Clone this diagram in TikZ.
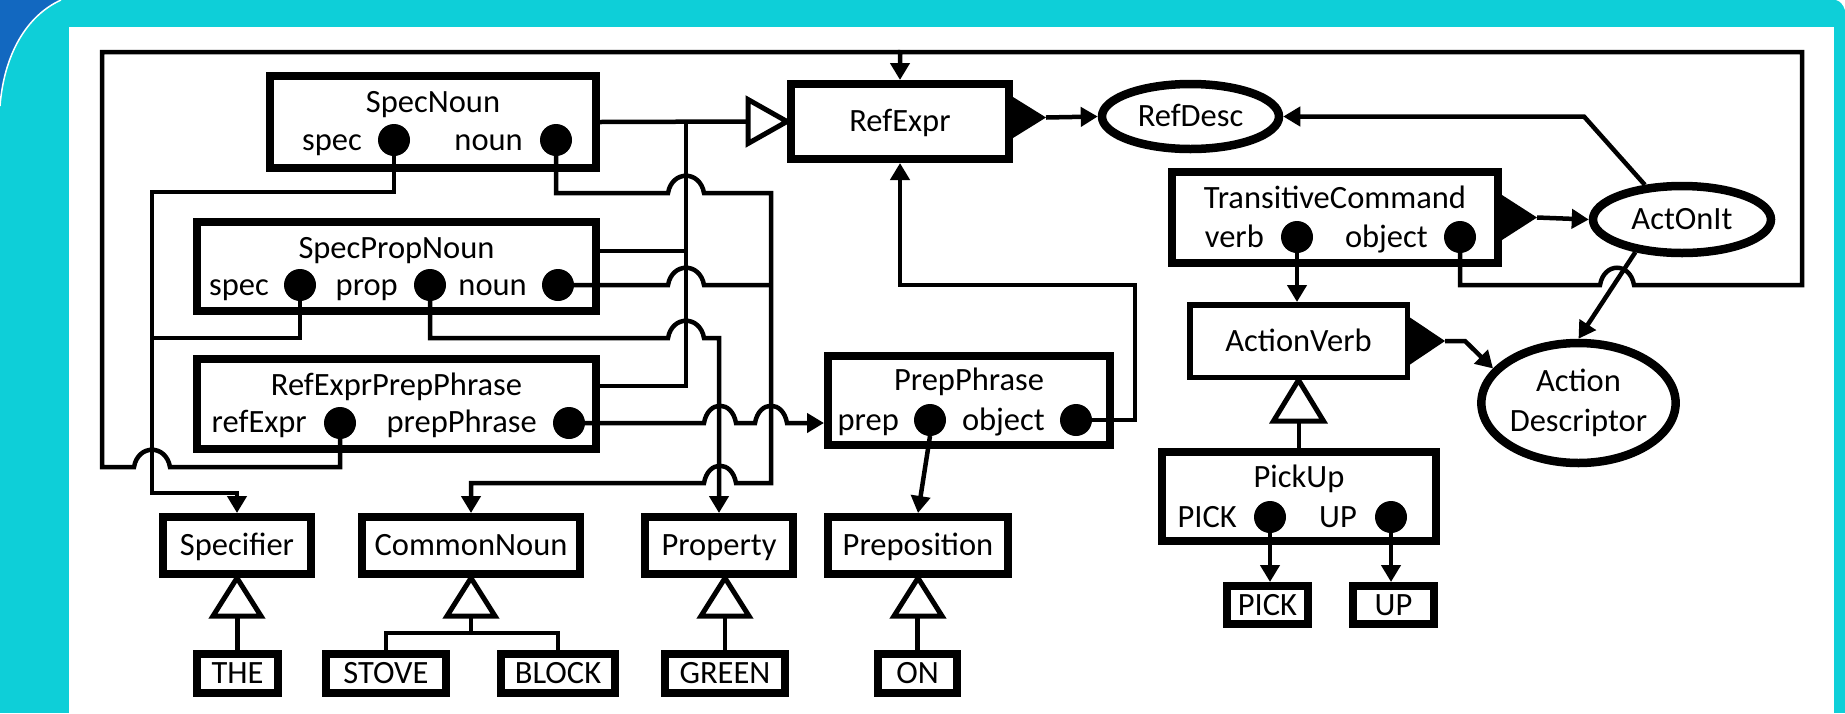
\documentclass[tikz,border=0pt]{standalone}
\usepackage{fontspec}
\setmainfont{Carlito}
\usetikzlibrary{arrows.meta,shapes.geometric}
\definecolor{framecyan}{RGB}{14,207,216}
\definecolor{cornerblue}{RGB}{18,104,192}
\begin{document}
\begin{tikzpicture}[x=1pt,y=-1pt,
  every node/.style={font=\fontsize{32.5}{40}\selectfont},
  conn/.style={line width=4.5pt},
  arr/.style={conn,-{Triangle[length=17pt,width=19pt]}},
  cls/.style={draw,fill=white,rectangle,line width=8pt,inner sep=0pt,text height=20.5pt,text depth=0pt},
  lightcls/.style={cls,line width=5.5pt},
  desc/.style={draw,fill=white,ellipse,line width=8.5pt,inner sep=0pt},
  port/.style={circle,fill,minimum size=32pt,inner sep=0pt,outer sep=0pt},
  plbl/.style={inner sep=0pt,anchor=base east},
  ttl/.style={inner sep=0pt,anchor=base},
  gen/.style={draw,line width=5pt,fill=white},
]
% ---- frame ----
\useasboundingbox (0,0) rectangle (1845,713);
\fill[framecyan] (0,0) rectangle (1845,713);
\fill[cornerblue] (0,0) -- (61,0) .. controls (26,16) and (4,55) .. (0,106) -- cycle;
\draw[white,line width=1.5pt] (61,0) .. controls (26,16) and (4,55) .. (0,106);
\fill[white] (1836,0) -- (1845,0) -- (1845,10) .. controls (1843,4) and (1840,1) .. (1836,0) -- cycle;
\fill[white] (69,27) rectangle (1834,713);

% ---- referring expression forms ----
\node[cls,minimum width=326pt,minimum height=92pt] (sn) at (433,122) {};
\node[ttl] (sn-t) at ([yshift=-40pt]sn.north) {SpecNoun};
\node[port] (sn-s) at (394,140) {};
\node[port] (sn-n) at (556,140) {};
\node[plbl] (sn-sl) at ([xshift=-16pt,yshift=-10pt]sn-s.west) {spec};
\node[plbl] (sn-nl) at ([xshift=-17pt,yshift=-10pt]sn-n.west) {noun};

\node[cls,minimum width=399pt,minimum height=89pt] (spn) at (396.5,266.5) {};
\node[ttl] (spn-t) at ([yshift=-40pt]spn.north) {SpecPropNoun};
\node[port] (spn-s) at (300,285) {};
\node[port] (spn-p) at (430,285) {};
\node[port] (spn-n) at (558,285) {};
\node[plbl] (spn-sl) at ([xshift=-15pt,yshift=-10pt]spn-s.west) {spec};
\node[plbl] (spn-pl) at ([xshift=-16pt,yshift=-10pt]spn-p.west) {prop};
\node[plbl] (spn-nl) at ([xshift=-15pt,yshift=-10pt]spn-n.west) {noun};

\node[cls,minimum width=399pt,minimum height=90pt] (rpp) at (396.5,404) {};
\node[ttl] (rpp-t) at ([yshift=-40pt]rpp.north) {RefExprPrepPhrase};
\node[port] (rpp-r) at (340,423) {};
\node[port] (rpp-p) at (569,423) {};
\node[plbl] (rpp-rl) at ([xshift=-17pt,yshift=-9pt]rpp-r.west) {refExpr};
\node[plbl] (rpp-pl) at ([xshift=-16pt,yshift=-9pt]rpp-p.west) {prepPhrase};

\node[cls,minimum width=218pt,minimum height=75pt] (re) at (900,121.5) {RefExpr};
\node[desc,minimum width=177pt,minimum height=65pt,text height=20.5pt,text depth=0pt] (rd) at (1190.5,116.5) {RefDesc};

\node[cls,minimum width=282pt,minimum height=89pt] (pp) at (969,400.5) {};
\node[ttl] (pp-t) at ([yshift=-38pt]pp.north) {PrepPhrase};
\node[port] (pp-p) at (930,420) {};
\node[port] (pp-o) at (1076,420) {};
\node[plbl] (pp-pl) at ([xshift=-15pt,yshift=-10pt]pp-p.west) {prep};
\node[plbl] (pp-ol) at ([xshift=-15pt,yshift=-10pt]pp-o.west) {object};

% ---- word classes and words ----
\node[cls,minimum width=148pt,minimum height=57pt] (spec) at (237,545.5) {Specifier};
\node[cls,minimum width=218pt,minimum height=57pt] (cn) at (471,545.5) {CommonNoun};
\node[cls,minimum width=148pt,minimum height=57pt] (prop) at (719,545.5) {Property};
\node[cls,minimum width=180pt,minimum height=57pt] (prep) at (918,545.5) {Preposition};
\node[cls,minimum width=81pt,minimum height=39pt] (the) at (237.5,673.5) {THE};
\node[cls,minimum width=120pt,minimum height=39pt] (stove) at (386,673.5) {STOVE};
\node[cls,minimum width=114pt,minimum height=39pt] (block) at (558,673.5) {BLOCK};
\node[cls,minimum width=120pt,minimum height=39pt] (green) at (725,673.5) {GREEN};
\node[cls,minimum width=79pt,minimum height=39pt] (on) at (917.5,673.5) {ON};

% ---- commands ----
\node[cls,minimum width=326pt,minimum height=91pt] (tc) at (1335,217.5) {};
\node[ttl] (tc-t) at ([yshift=-40pt]tc.north) {TransitiveCommand};
\node[port] (tc-v) at (1297,237) {};
\node[port] (tc-o) at (1460,237) {};
\node[plbl] (tc-vl) at ([xshift=-17pt,yshift=-10pt]tc-v.west) {verb};
\node[plbl] (tc-ol) at ([xshift=-16pt,yshift=-10pt]tc-o.west) {object};

\node[desc,minimum width=178pt,minimum height=67pt,text height=20.5pt,text depth=0pt] (ao) at (1682,219.5) {ActOnIt};
\node[lightcls,minimum width=217.5pt,minimum height=72.5pt] (av) at (1298.5,341) {ActionVerb};
\node[desc,minimum width=179pt,minimum height=120pt,align=center] (ad) at (1578.5,403) {Action\\Descriptor};

\node[cls,minimum width=274pt,minimum height=89pt] (pu) at (1299,496.5) {};
\node[ttl] (pu-t) at ([yshift=-39pt]pu.north) {PickUp};
\node[port] (pu-p) at (1270,517) {};
\node[port] (pu-u) at (1391,517) {};
\node[plbl] (pu-pl) at ([xshift=-17pt,yshift=-10pt]pu-p.west) {PICK};
\node[plbl] (pu-ul) at ([xshift=-18pt,yshift=-10pt]pu-u.west) {UP};
\node[cls,minimum width=81pt,minimum height=38pt] (pick) at (1267.5,605) {PICK};
\node[cls,minimum width=81pt,minimum height=38pt] (up) at (1393.5,605) {UP};

% ---- junction points ----
\coordinate (bus-re) at (686,122);
\coordinate (re-g) at ([xshift=-39pt]re.west);

% ---- subclasses of RefExpr ----
\draw[conn] (sn.east) -- (re-g);
\draw[conn] ([yshift=15.5pt]spn.east) -- (bus-re |- 0,251);
\draw[conn] ([yshift=18pt]rpp.east) -| (bus-re);
\draw[gen] (re.west) -- ([yshift=22pt]re-g) -- ([yshift=-22pt]re-g) -- cycle;

% ---- spec ports to Specifier ----
\draw[arr] (sn-s.south) |- (152,192) -- (152,493) -| (spec.north);
\draw[conn] (spn-s.south) |- (152,338);

% ---- noun ports to CommonNoun ----
\draw[arr] (sn-n.south) |- (668,193) .. controls (672,170) and (700,170) .. (704,193)
  -| (771,483) -- (736,483) .. controls (732,460) and (708,460) .. (704,483) -| (cn.north);
\draw[conn] (spn-n.east) -- (668,285) .. controls (672,262) and (700,262) .. (704,285) -- (771,285);

% ---- prop port to Property ----
\draw[arr] (spn-p.south) |- (668,338) .. controls (672,315) and (700,315) .. (704,338) -| (prop.north);

% ---- prepPhrase port to PrepPhrase ----
\draw[arr] (rpp-p.east) -- (704,423) .. controls (708,400) and (732,400) .. (736,423)
  -- (755,423) .. controls (759,400) and (783,400) .. (787,423) -- (pp.west |- rpp-p.east);

% ---- refExpr/object ports to RefExpr (top bus) ----
\draw[arr] (tc-o.south) |- (1600,285) .. controls (1604,262) and (1630,262) .. (1634,285)
  -| (1802,52) -| (re.north);
\draw[conn] (rpp-r.south) |- (170,467) .. controls (166,444) and (138,444) .. (134,467)
  -| (102,52) -- (re.north |- 0,52);

% ---- PrepPhrase ports ----
\draw[arr] (pp-o.east) -| (1135,285) -| (re.south);
\draw[arr] (pp-p.south) -- (prep.north);

% ---- RefExpr to RefDesc ----
\coordinate (re-c) at ([xshift=33pt,yshift=4pt]re.east);
\fill ([yshift=24.5pt]re.east) -- (re-c) -- ([yshift=-16.5pt]re.east) -- cycle;
\draw[arr] (re-c) -- (rd.west);

% ---- command side ----
\coordinate (tc-c) at ([xshift=35pt]tc.east);
\fill ([yshift=22.5pt]tc.east) -- (tc-c) -- ([yshift=-22.5pt]tc.east) -- cycle;
\draw[arr] (tc-c) -- (ao.west);
\draw[arr] (ao.137) -- (1584,116.5) -- (rd.east);
\draw[arr] (ao.215) -- (ad.north);
\draw[arr] (tc-v.south) -- (tc-v.south |- av.north);

\coordinate (av-c) at ([xshift=35pt]av.east);
\fill ([yshift=23.5pt]av.east) -- (av-c) -- ([yshift=-23.5pt]av.east) -- cycle;
\draw[arr] (av-c) -- ++(20,0) -- (ad.158);

\coordinate (av-g) at ([yshift=-41pt]av.south);
\draw[conn] (pu.north) -- (pu.north |- av-g);
\draw[gen] (av.south) -- ([xshift=-25pt]av-g) -- ([xshift=25pt]av-g) -- cycle;
\draw[arr] (pu-p.south) -- (pu-p.south |- pick.north);
\draw[arr] (pu-u.south) -- (pu-u.south |- up.north);

% ---- word classes to their words ----
\coordinate (spec-g) at ([yshift=-38pt]spec.south);
\draw[conn] (the.north) -- (the.north |- spec-g);
\draw[gen] (spec.south) -- ([xshift=-24pt]spec-g) -- ([xshift=24pt]spec-g) -- cycle;

\coordinate (cn-g) at ([yshift=-38pt]cn.south);
\coordinate (cn-j) at ([yshift=-17pt]cn-g);
\draw[conn] (cn-g) -- (cn-j);
\draw[conn] (stove.north) |- (cn-j) -| (block.north);
\draw[gen] (cn.south) -- ([xshift=-24pt]cn-g) -- ([xshift=24pt]cn-g) -- cycle;

\coordinate (prop-t) at (green.north |- prop.south);
\coordinate (prop-g) at ([yshift=-38pt]prop-t);
\draw[conn] (green.north) -- (prop-g);
\draw[gen] (prop-t) -- ([xshift=-24pt]prop-g) -- ([xshift=24pt]prop-g) -- cycle;

\coordinate (prep-g) at ([yshift=-38pt]prep.south);
\draw[conn] (on.north) -- (on.north |- prep-g);
\draw[gen] (prep.south) -- ([xshift=-24pt]prep-g) -- ([xshift=24pt]prep-g) -- cycle;
\end{tikzpicture}
\end{document}
